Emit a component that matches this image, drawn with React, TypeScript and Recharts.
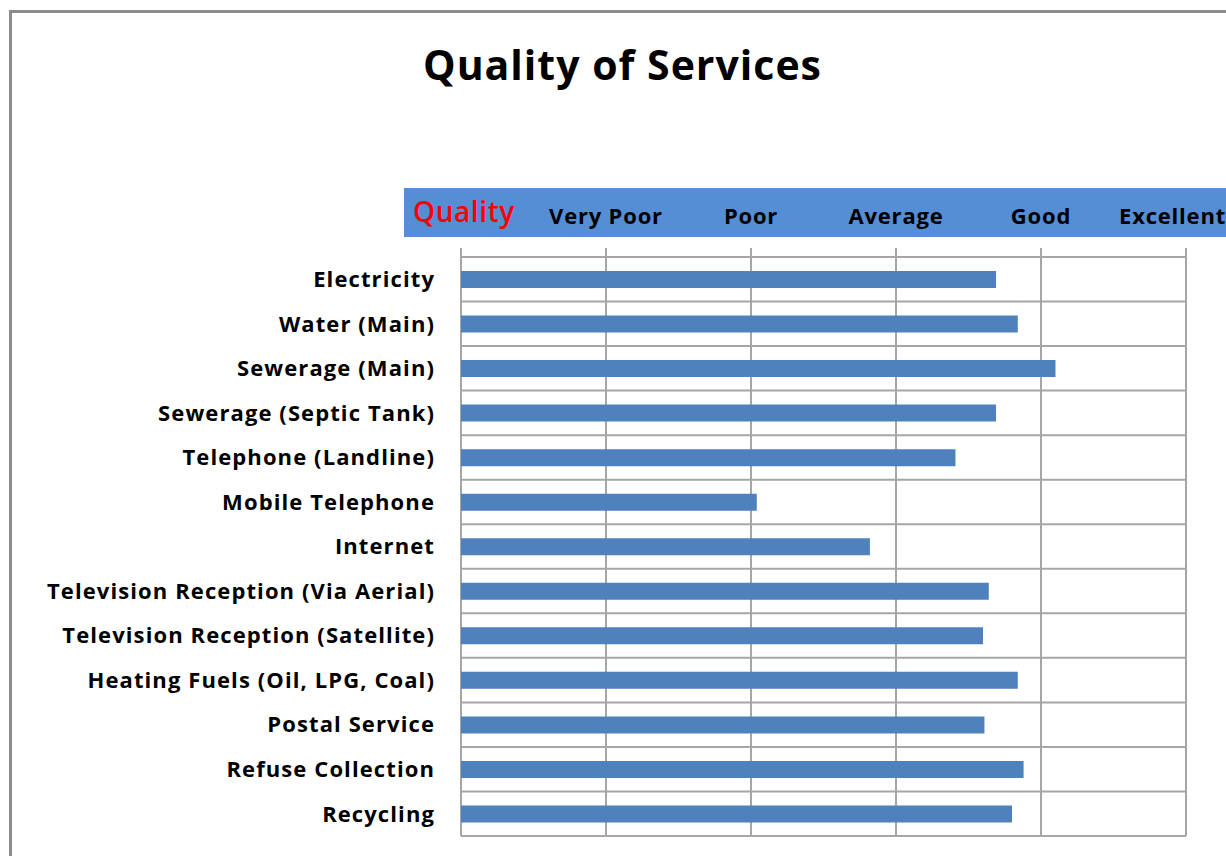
import { BarChart, Bar, XAxis, YAxis, CartesianGrid } from "recharts";

// Service categories, top to bottom
const services = [
  "Electricity",
  "Water (Main)",
  "Sewerage (Main)",
  "Sewerage (Septic Tank)",
  "Telephone (Landline)",
  "Mobile Telephone",
  "Internet",
  "Television Reception (Via Aerial)",
  "Television Reception (Satellite)",
  "Heating Fuels (Oil, LPG, Coal)",
  "Postal Service",
  "Refuse Collection",
  "Recycling",
];

// Average rating (0-5 scale)
const ratings = [3.69, 3.84, 4.1, 3.69, 3.41, 2.04, 2.82, 3.64, 3.6, 3.84, 3.61, 3.88, 3.8];

// Scale labels shown in the header band
const qualityTicks = [0, 1, 2, 3, 4, 5];
const qualityLabels = ["", "Very Poor", "Poor", "Average", "Good", "Excellent"];

const data = services.map((name, i) => ({ name, rating: ratings[i] }));

const W = 1226;
const H = 856;
const FONT = "'Open Sans', Lato, sans-serif";
const GRID = "#a6a6a6";

const QualityTick = (props: any) => {
  const { x, y, payload } = props;
  const isLast = payload.value === qualityTicks[qualityTicks.length - 1];
  // last label would run off the page: pin it to the right edge instead
  return (
    <text
      x={isLast ? W : x}
      y={y}
      textAnchor={isLast ? "end" : "middle"}
      fontFamily={FONT}
      fontWeight={700}
      fontSize={22}
      letterSpacing={0.8}
      fill="#000"
    >
      {qualityLabels[qualityTicks.indexOf(payload.value)]}
    </text>
  );
};

export default function App() {
  return (
    <div
      style={{
        position: "fixed",
        left: 0,
        top: 0,
        width: W,
        height: H,
        overflow: "hidden",
        background: "#fff",
        fontFamily: FONT,
      }}
    >
      {/* outer frame, runs off the right and bottom edges */}
      <div
        style={{
          position: "absolute",
          left: 9,
          top: 10,
          width: 1300,
          height: 900,
          border: "3px solid #8c8c8c",
          boxSizing: "border-box",
        }}
      />
      <div
        style={{
          position: "absolute",
          left: 0,
          top: 36,
          width: 1245,
          textAlign: "center",
          fontSize: 41,
          letterSpacing: 1,
          fontWeight: 700,
          color: "#000",
        }}
      >
        Quality of Services
      </div>
      {/* header band */}
      <div
        style={{
          position: "absolute",
          left: 404,
          top: 188,
          width: 840,
          height: 49,
          background: "#558ed5",
        }}
      />
      <div
        style={{
          position: "absolute",
          left: 413,
          top: 192,
          fontSize: 28,
          letterSpacing: 0.6,
          fontWeight: 600,
          color: "#ff0000",
        }}
      >
        Quality
      </div>
      <div style={{ position: "absolute", left: 0, top: 0 }}>
        <BarChart
          width={W}
          height={H}
          data={data}
          layout="vertical"
          margin={{ top: 188, right: 40, bottom: 20, left: 0 }}
          barCategoryGap={0}
        >
          <CartesianGrid
            stroke={GRID}
            strokeWidth={2}
            horizontalCoordinatesGenerator={({ offset }: any) =>
              services.map((_, i) => offset.top + (i * offset.height) / services.length).concat(offset.top + offset.height)
            }
          />
          <XAxis
            type="number"
            orientation="top"
            domain={[0, 5]}
            ticks={qualityTicks}
            height={69}
            axisLine={false}
            tickSize={9}
            tickMargin={24}
            tickLine={{ stroke: GRID, strokeWidth: 2 }}
            tick={<QualityTick />}
            interval={0}
          />
          <YAxis
            type="category"
            dataKey="name"
            width={461}
            axisLine={false}
            tickLine={false}
            tickSize={0}
            tickMargin={26}
            interval={0}
            tick={{ fill: "#000", fontSize: 22, fontWeight: 700, fontFamily: FONT, letterSpacing: 1.1 }}
          />
          <Bar dataKey="rating" fill="#4f81bd" barSize={17} isAnimationActive={false} />
        </BarChart>
      </div>
    </div>
  );
}
